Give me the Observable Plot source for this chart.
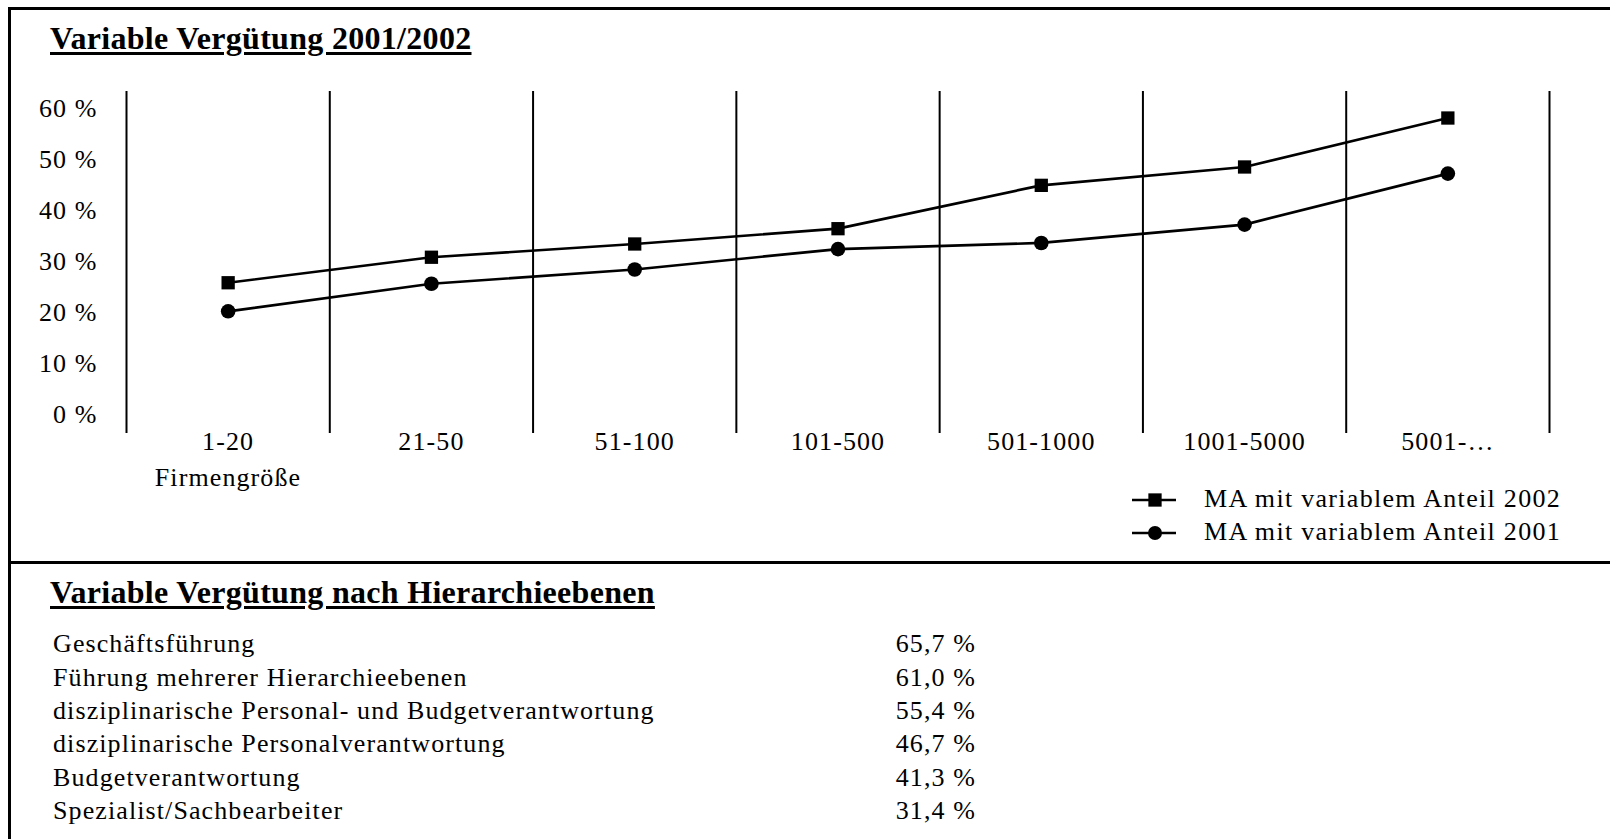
<!DOCTYPE html>
<html>
<head>
<meta charset="utf-8">
<script src="https://cdn.jsdelivr.net/npm/d3@7"></script>
<script src="https://cdn.jsdelivr.net/npm/@observablehq/plot@0.6"></script>
<style>
  html, body { margin: 0; padding: 0; background: white; overflow: hidden; }
  body { width: 1610px; height: 839px; position: relative; font-family: "Liberation Serif", "Times New Roman", serif; color: black; }
  .abs { position: absolute; white-space: nowrap; }
  .title { font-size: 32px; font-weight: bold; line-height: 32px; letter-spacing: 0.3px; text-decoration: underline; text-decoration-thickness: 3px; text-underline-offset: 3px; }
  .txt { font-size: 26px; line-height: 26px; letter-spacing: 1.1px; }
  .line { position: absolute; background: black; }
  #chart { position: absolute; left: 0; top: 0; }
</style>
</head>
<body>
<div id="chart"></div>
<script>
// ---- data ----
const categories = ["1-20", "21-50", "51-100", "101-500", "501-1000", "1001-5000", "5001-…"];
const values2002 = [25.8, 30.8, 33.4, 36.4, 44.9, 48.5, 58.1];
const values2001 = [20.2, 25.6, 28.4, 32.4, 33.6, 37.2, 47.2];
const seriesNames = ["MA mit variablem Anteil 2002", "MA mit variablem Anteil 2001"];
const yTicks = [0, 10, 20, 30, 40, 50, 60];
const xAxisTitle = "Firmengröße";
const chartTitle = "Variable Vergütung 2001/2002";
const tableTitle = "Variable Vergütung nach Hierarchieebenen";
const levels = [
  "Geschäftsführung",
  "Führung mehrerer Hierarchieebenen",
  "disziplinarische Personal- und Budgetverantwortung",
  "disziplinarische Personalverantwortung",
  "Budgetverantwortung",
  "Spezialist/Sachbearbeiter"
];
const levelValues = [65.7, 61.0, 55.4, 46.7, 41.3, 31.4];

// ---- build rows ----
const rows2002 = categories.map((c, i) => ({i, v: values2002[i], s: seriesNames[0]}));
const rows2001 = categories.map((c, i) => ({i, v: values2001[i], s: seriesNames[1]}));
const idx = categories.map((c, i) => i);
const bounds = d3.range(categories.length + 1).map(i => i - 0.5);

const plot = Plot.plot({
  width: 1610,
  height: 470,
  marginLeft: 126,
  marginRight: 61,
  marginTop: 91,
  marginBottom: 37,
  x: {domain: [-0.5, categories.length - 0.5], axis: null, label: null},
  y: {domain: [-3.76, 63.3], axis: null, label: null},
  style: {
    background: "transparent",
    fontFamily: "'Liberation Serif', 'Times New Roman', serif",
    fontSize: "26px",
    letterSpacing: "1.1px",
    color: "black",
    overflow: "visible"
  },
  marks: [
    Plot.ruleX(bounds, {x: d => d, stroke: "black", strokeWidth: 2}),
    Plot.axisY(yTicks, {tickSize: 0, tickPadding: 29, tickFormat: d => d + " %", label: null, fontSize: 26}),
    Plot.axisX(idx, {tickSize: 0, tickPadding: -2, tickFormat: i => categories[i], label: null, fontSize: 26}),
    Plot.line(rows2002, {x: "i", y: "v", stroke: "black", strokeWidth: 2.7}),
    Plot.line(rows2001, {x: "i", y: "v", stroke: "black", strokeWidth: 2.7}),
    Plot.dot(rows2002, {x: "i", y: "v", symbol: "square", r: 7.5, fill: "black", stroke: "none"}),
    Plot.dot(rows2001, {x: "i", y: "v", symbol: "circle", r: 7.3, fill: "black", stroke: "none"})
  ]
});
document.getElementById("chart").appendChild(plot);

const body = document.body;
function addDiv(cls, text, css) {
  const d = document.createElement("div");
  d.className = cls;
  d.textContent = text;
  Object.assign(d.style, css);
  body.appendChild(d);
  return d;
}

// titles
addDiv("abs title", chartTitle, {left: "50px", top: "21.5px"});
addDiv("abs title", tableTitle, {left: "50px", top: "575.5px"});

// x axis title
addDiv("abs txt", xAxisTitle, {left: "128px", top: "465px", width: "200px", textAlign: "center"});

// legend
const legend = d3.select(body).append("svg")
  .attr("width", 470).attr("height", 80)
  .style("position", "absolute").style("left", "1120px").style("top", "478px")
  .style("font-family", "'Liberation Serif', 'Times New Roman', serif")
  .style("font-size", "26px").style("letter-spacing", "1.3px");
const legendRows = [
  {name: seriesNames[0], symbol: d3.symbolSquare, size: Math.PI * 7.5 * 7.5},
  {name: seriesNames[1], symbol: d3.symbolCircle, size: Math.PI * 7.0 * 7.0}
];
legendRows.forEach((r, k) => {
  const cy = 22 + k * 33;
  const g = legend.append("g").attr("transform", `translate(0,${cy})`);
  g.append("line").attr("x1", 12).attr("x2", 56).attr("y1", 0).attr("y2", 0).attr("stroke", "black").attr("stroke-width", 2.7);
  g.append("path").attr("d", d3.symbol(r.symbol, r.size)()).attr("transform", "translate(35,0)").attr("fill", "black");
  g.append("text").attr("x", 84).attr("y", 7).text(r.name);
});

// table rows
const fmt = v => v.toFixed(1).replace(".", ",") + " %";
levels.forEach((lab, k) => {
  const top = 653 + k * 33.4 - 21.8;
  addDiv("abs txt", lab, {left: "53px", top: top + "px"});
  addDiv("abs txt", fmt(levelValues[k]), {left: "776px", top: top + "px", width: "200px", textAlign: "right"});
});

// frame lines
const lines = [
  {left: 8, top: 7, width: 1602, height: 3},
  {left: 8, top: 7, width: 3, height: 832},
  {left: 8, top: 561, width: 1602, height: 3}
];
lines.forEach(l => {
  const d = document.createElement("div");
  d.className = "line";
  Object.assign(d.style, {left: l.left + "px", top: l.top + "px", width: l.width + "px", height: l.height + "px"});
  body.appendChild(d);
});
</script>
</body>
</html>
